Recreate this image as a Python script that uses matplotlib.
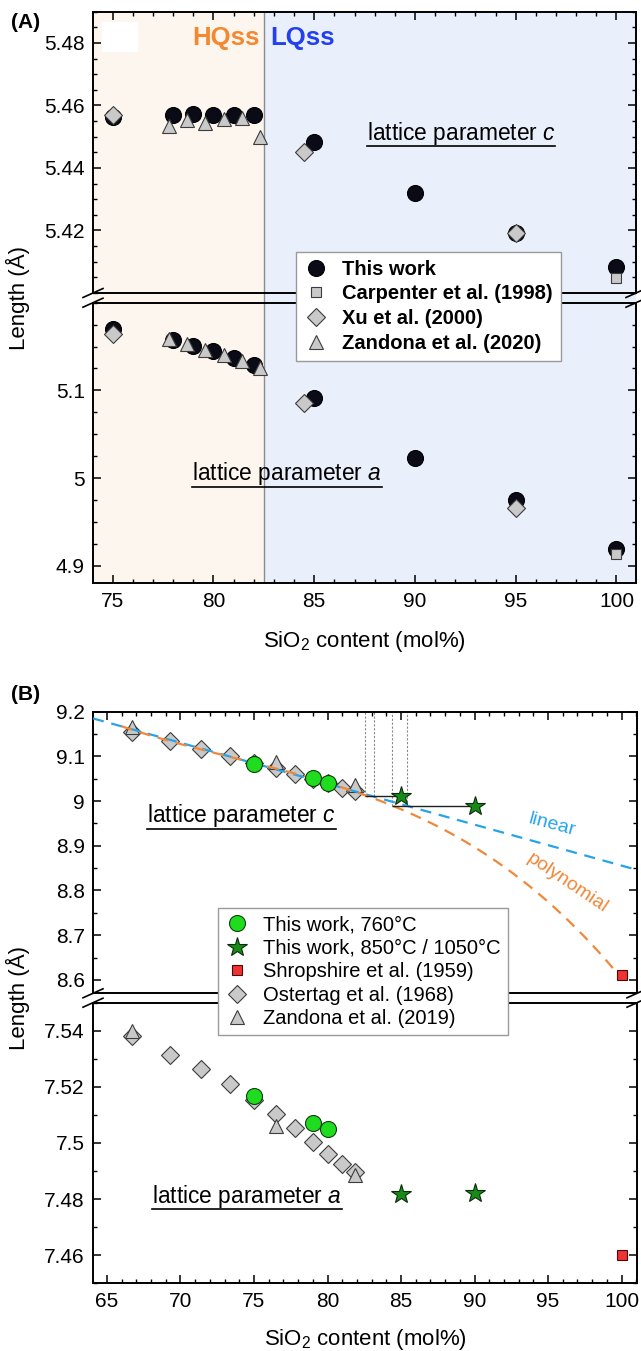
import numpy as np
import matplotlib
matplotlib.use('Agg')
import matplotlib.pyplot as plt
from matplotlib.ticker import MultipleLocator, FuncFormatter
from matplotlib.lines import Line2D
from matplotlib.patches import Rectangle

plt.rcParams['font.family'] = ['Liberation Sans', 'DejaVu Sans']
plt.rcParams['mathtext.fontset'] = 'custom'
plt.rcParams['mathtext.rm'] = 'Liberation Sans'
plt.rcParams['mathtext.it'] = 'Liberation Sans:italic'
plt.rcParams['mathtext.bf'] = 'Liberation Sans:bold'

# ---------------- data, panel A (quartz ss lattice parameters) ----------------
x_tw_A = [75, 78, 79, 80, 81, 82, 85, 90, 95, 100]
c_tw_A = [5.4563, 5.4569, 5.4574, 5.4571, 5.4571, 5.4569, 5.4484, 5.4319, 5.4193, 5.4084]
a_tw_A = [5.1702, 5.1570, 5.1505, 5.1448, 5.1365, 5.1288, 5.0916, 5.0231, 4.9746, 4.9194]

x_carp = [100]
c_carp = [5.4047]
a_carp = [4.9130]

x_xu = [75, 84.5, 95]
c_xu = [5.4569, 5.4451, 5.4193]
a_xu = [5.1639, 5.0859, 4.9661]

x_zan20 = [77.8, 78.7, 79.6, 80.5, 81.4, 82.3]
c_zan20 = [5.4535, 5.4553, 5.4545, 5.4556, 5.4560, 5.4500]
a_zan20 = [5.1582, 5.1525, 5.1460, 5.1403, 5.1334, 5.1251]

hq_lq_border = 82.5

# ---------------- data, panel B (keatite ss lattice parameters) ----------------
x_tw760 = [75, 79, 80]
c_tw760 = [9.083, 9.051, 9.041]
a_tw760 = [7.5166, 7.5072, 7.5049]

x_twhi = [85, 90]
c_twhi = [9.012, 8.989]
a_twhi = [7.4819, 7.4823]

x_shrop = [100]
c_shrop = [8.61]
a_shrop = [7.46]

x_ost = [66.7, 69.3, 71.4, 73.4, 75.0, 76.5, 77.8, 79.0, 80.0, 81.0, 81.9]
c_ost = [9.155, 9.135, 9.117, 9.102, 9.085, 9.073, 9.060, 9.050, 9.041, 9.029, 9.022]
a_ost = [7.538, 7.5315, 7.5262, 7.5209, 7.5155, 7.5105, 7.5053, 7.5004, 7.4962, 7.4924, 7.4897]

x_zan19 = [66.7, 76.5, 81.9]
c_zan19 = [9.165, 9.088, 9.035]
a_zan19 = [7.540, 7.5061, 7.4885]

# linear fit of c (intercept, slope) and points
lin_coef = [9.7717, -0.00916]
poly_x = [66.7, 75.0, 80.0, 84.97, 90.5, 94.93, 98.56, 100.0]
poly_c = [9.160, 9.085, 9.040, 8.983, 8.888, 8.778, 8.649, 8.610]

# composition read-off guides for the 850/1050 C samples
guide_x = [82.56, 83.13, 84.38, 85.44]
guide_c = [9.012, 9.012, 8.989, 8.989]
link_x0 = [82.56, 84.38]
link_x1 = [85, 90]
link_c = [9.012, 8.989]

# ---------------- figure ----------------
W, H = 641, 1351
fig = plt.figure(figsize=(W / 100, H / 100), dpi=100)


def px_box(x0, y0, x1, y1):
    return [x0 / W, 1 - y1 / H, (x1 - x0) / W, (y1 - y0) / H]


fmt = FuncFormatter(lambda v, p: f'{v:g}')


def style(ax, upper):
    ax.set_facecolor('none')
    ax.tick_params(which='both', direction='in', left=True, right=True,
                   top=upper, bottom=not upper, labelbottom=not upper,
                   labelsize=15, pad=6)
    ax.tick_params(which='major', length=6, width=1.1)
    ax.tick_params(which='minor', length=3.2, width=1.0)
    for s in ax.spines.values():
        s.set_linewidth(1.4)
    ax.yaxis.set_major_formatter(fmt)
    ax.xaxis.set_major_formatter(fmt)
    ax.xaxis.set_major_locator(MultipleLocator(5))
    ax.xaxis.set_minor_locator(MultipleLocator(1))


def break_marks(xl, xr, y_up, y_lo):
    for xp in (xl, xr):
        for yp in (y_up, y_lo):
            fig.add_artist(Line2D([(xp - 10) / W, (xp + 10) / W],
                                  [1 - (yp + 4.5) / H, 1 - (yp - 4.5) / H],
                                  transform=fig.transFigure, color='k', lw=1.2))


# ----- panel A -----
xlimA = (74.02, 100.97)
bgA = fig.add_axes(px_box(93, 11.7, 636, 583.3), zorder=0)
bgA.set_xlim(xlimA)
bgA.axvspan(xlimA[0], hq_lq_border, color='#fdf6ee', lw=0)
bgA.axvspan(hq_lq_border, xlimA[1], color='#eaeffc', lw=0)
bgA.axvline(hq_lq_border, color='#8c8c8c', lw=1)
bgA.set_axis_off()

axAt = fig.add_axes(px_box(93, 11.7, 636, 293), zorder=1)
axAb = fig.add_axes(px_box(93, 302.7, 636, 583.3), zorder=1)

tw_kw = dict(ls='none', marker='o', ms=11.5, mfc='#0b0b18', mec='k', mew=0.8)
grey = dict(ls='none', mfc='#c9c9c9', mec='#3c3c3c', mew=0.8)

for ax, c_or_a, car, xu, zan in [(axAt, c_tw_A, c_carp, c_xu, c_zan20),
                                 (axAb, a_tw_A, a_carp, a_xu, a_zan20)]:
    h1, = ax.plot(x_tw_A, c_or_a, label='This work', **tw_kw)
    h2, = ax.plot(x_carp, car, marker='s', ms=7, label='Carpenter et al. (1998)', **grey)
    h3, = ax.plot(x_xu, xu, marker='D', ms=9, label='Xu et al. (2000)', **grey)
    h4, = ax.plot(x_zan20, zan, marker='^', ms=10, label='Zandona et al. (2020)', **grey)
    ax.set_xlim(xlimA)

axAt.set_ylim(5.40, 5.49)
axAb.set_ylim(4.88, 5.20)
style(axAt, True)
style(axAb, False)
axAt.yaxis.set_minor_locator(MultipleLocator(0.005))
axAb.yaxis.set_minor_locator(MultipleLocator(0.025))
axAt.set_yticks([5.42, 5.44, 5.46, 5.48])
axAb.set_yticks([4.9, 5.0, 5.1])

axAt.add_patch(Rectangle((0.0166, 0.858), 0.066, 0.106, transform=axAt.transAxes,
                         color='white', lw=0, zorder=1))
axAt.text(82.31, 5.4816, 'HQss', color='#f5872e', fontsize=18.5, fontweight='bold',
          ha='right', va='center')
axAt.text(82.8, 5.4816, 'LQss', color='#2340ec', fontsize=18.5, fontweight='bold',
          ha='left', va='center')
tA1 = axAt.text(87.6, 5.4511, 'lattice parameter $c$', fontsize=16.4, ha='left', va='center')
tA2 = axAb.text(78.93, 5.0051, 'lattice parameter $a$', fontsize=16.4, ha='left', va='center')

fig.legend(handles=[h1, h2, h3, h4], loc='upper left',
           bbox_to_anchor=(295.6 / W, 1 - 251.7 / H), prop={'weight': 'bold', 'size': 14.5},
           fancybox=False, framealpha=1, edgecolor='#9a9a9a', borderpad=0.4,
           labelspacing=0.28, handlelength=1.2, handletextpad=0.7, borderaxespad=0)

fig.text(11 / W, 1 - 23 / H, '(A)', fontsize=15, fontweight='bold', ha='left', va='center')
fig.text(18.3 / W, 1 - 298 / H, 'Length (Å)', fontsize=16, rotation=90, ha='center', va='center')
fig.text(364.5 / W, 1 - 641.7 / H, 'SiO$_2$ content (mol%)', fontsize=16, ha='center', va='center')
break_marks(93, 636, 293, 302.7)

# ----- panel B -----
xlimB = (64.05, 101.05)
axBt = fig.add_axes(px_box(93, 711.7, 637, 993.3))
axBb = fig.add_axes(px_box(93, 1002.7, 637, 1283.3))

grn = dict(ls='none', marker='o', ms=11.5, mfc='#1fdc1f', mec='#0f3f0f', mew=0.8, zorder=5)
star = dict(ls='none', marker='*', ms=15, mfc='#168c16', mec='#0c2a0c', mew=0.8, zorder=5)
red = dict(ls='none', marker='s', ms=7, mfc='#f03232', mec='#4a0a0a', mew=0.8, zorder=5)

for ax, ost, zan, g, st, sh in [(axBt, c_ost, c_zan19, c_tw760, c_twhi, c_shrop),
                                (axBb, a_ost, a_zan19, a_tw760, a_twhi, a_shrop)]:
    k4, = ax.plot(x_ost, ost, marker='D', ms=9, label='Ostertag et al. (1968)', zorder=2, **grey)
    k5, = ax.plot(x_zan19, zan, marker='^', ms=10, label='Zandona et al. (2019)', zorder=2, **grey)
    k1, = ax.plot(x_tw760, g, label='This work, 760°C', **grn)
    k2, = ax.plot(x_twhi, st, label='This work, 850°C / 1050°C', **star)
    k3, = ax.plot(x_shrop, sh, label='Shropshire et al. (1959)', **red)
    ax.set_xlim(xlimB)

# fit curves for c
xl = np.linspace(xlimB[0], xlimB[1], 50)
axBt.plot(xl, lin_coef[0] + lin_coef[1] * xl, color='#26a4ea', lw=1.6,
          ls=(0, (5, 3.5)), zorder=3)
pc = np.polyfit(poly_x, poly_c, 3)
xp = np.linspace(66.0, 100.0, 200)
axBt.plot(xp, np.polyval(pc, xp), color='#f0883a', lw=1.6, ls=(0, (5, 3.5)), zorder=3)
axBt.vlines(guide_x, guide_c, 9.2, colors='#8a8a8a', linestyles=(0, (2, 1.5)), lw=0.8, zorder=1)
axBt.hlines(link_c, link_x0, link_x1, colors='#202020', lw=1.0, zorder=4)
axBt.text(95.3, 8.9465, 'linear', color='#26a4ea', fontsize=14, rotation=-15,
          ha='center', va='center')
axBt.text(96.28, 8.816, 'polynomial', color='#f0883a', fontsize=14, rotation=-34,
          ha='center', va='center')

axBt.set_ylim(8.57, 9.2)
axBb.set_ylim(7.45, 7.55)
style(axBt, True)
style(axBb, False)
axBt.yaxis.set_major_locator(MultipleLocator(0.1))
axBt.yaxis.set_minor_locator(MultipleLocator(0.05))
axBb.yaxis.set_major_locator(MultipleLocator(0.02))
axBb.yaxis.set_minor_locator(MultipleLocator(0.01))

tB1 = axBt.text(67.72, 8.967, 'lattice parameter $c$', fontsize=16.4, ha='left', va='center')
tB2 = axBb.text(68.06, 7.4811, 'lattice parameter $a$', fontsize=16.4, ha='left', va='center')

fig.legend(handles=[k1, k2, k3, k4, k5], loc='upper left',
           bbox_to_anchor=(218 / W, 1 - 908.3 / H), prop={'size': 14.5},
           fancybox=False, framealpha=1, edgecolor='#9a9a9a', borderpad=0.35,
           labelspacing=0.22, handlelength=1.2, handletextpad=0.7, borderaxespad=0)

fig.text(11 / W, 1 - 695 / H, '(B)', fontsize=15, fontweight='bold', ha='left', va='center')
fig.text(18.3 / W, 1 - 997.5 / H, 'Length (Å)', fontsize=16, rotation=90, ha='center', va='center')
fig.text(365 / W, 1 - 1340 / H, 'SiO$_2$ content (mol%)', fontsize=16, ha='center', va='center')
break_marks(93, 637, 993.3, 1002.7)

# underline the lattice-parameter labels
fig.canvas.draw()
r = fig.canvas.get_renderer()
for t in (tA1, tA2, tB1, tB2):
    bb = t.get_window_extent(r)
    y = (bb.y0 + 0.5) / H
    fig.add_artist(Line2D([bb.x0 / W, bb.x1 / W], [y, y], transform=fig.transFigure,
                          color='k', lw=1.2))

fig.savefig('out.png', dpi=100)
